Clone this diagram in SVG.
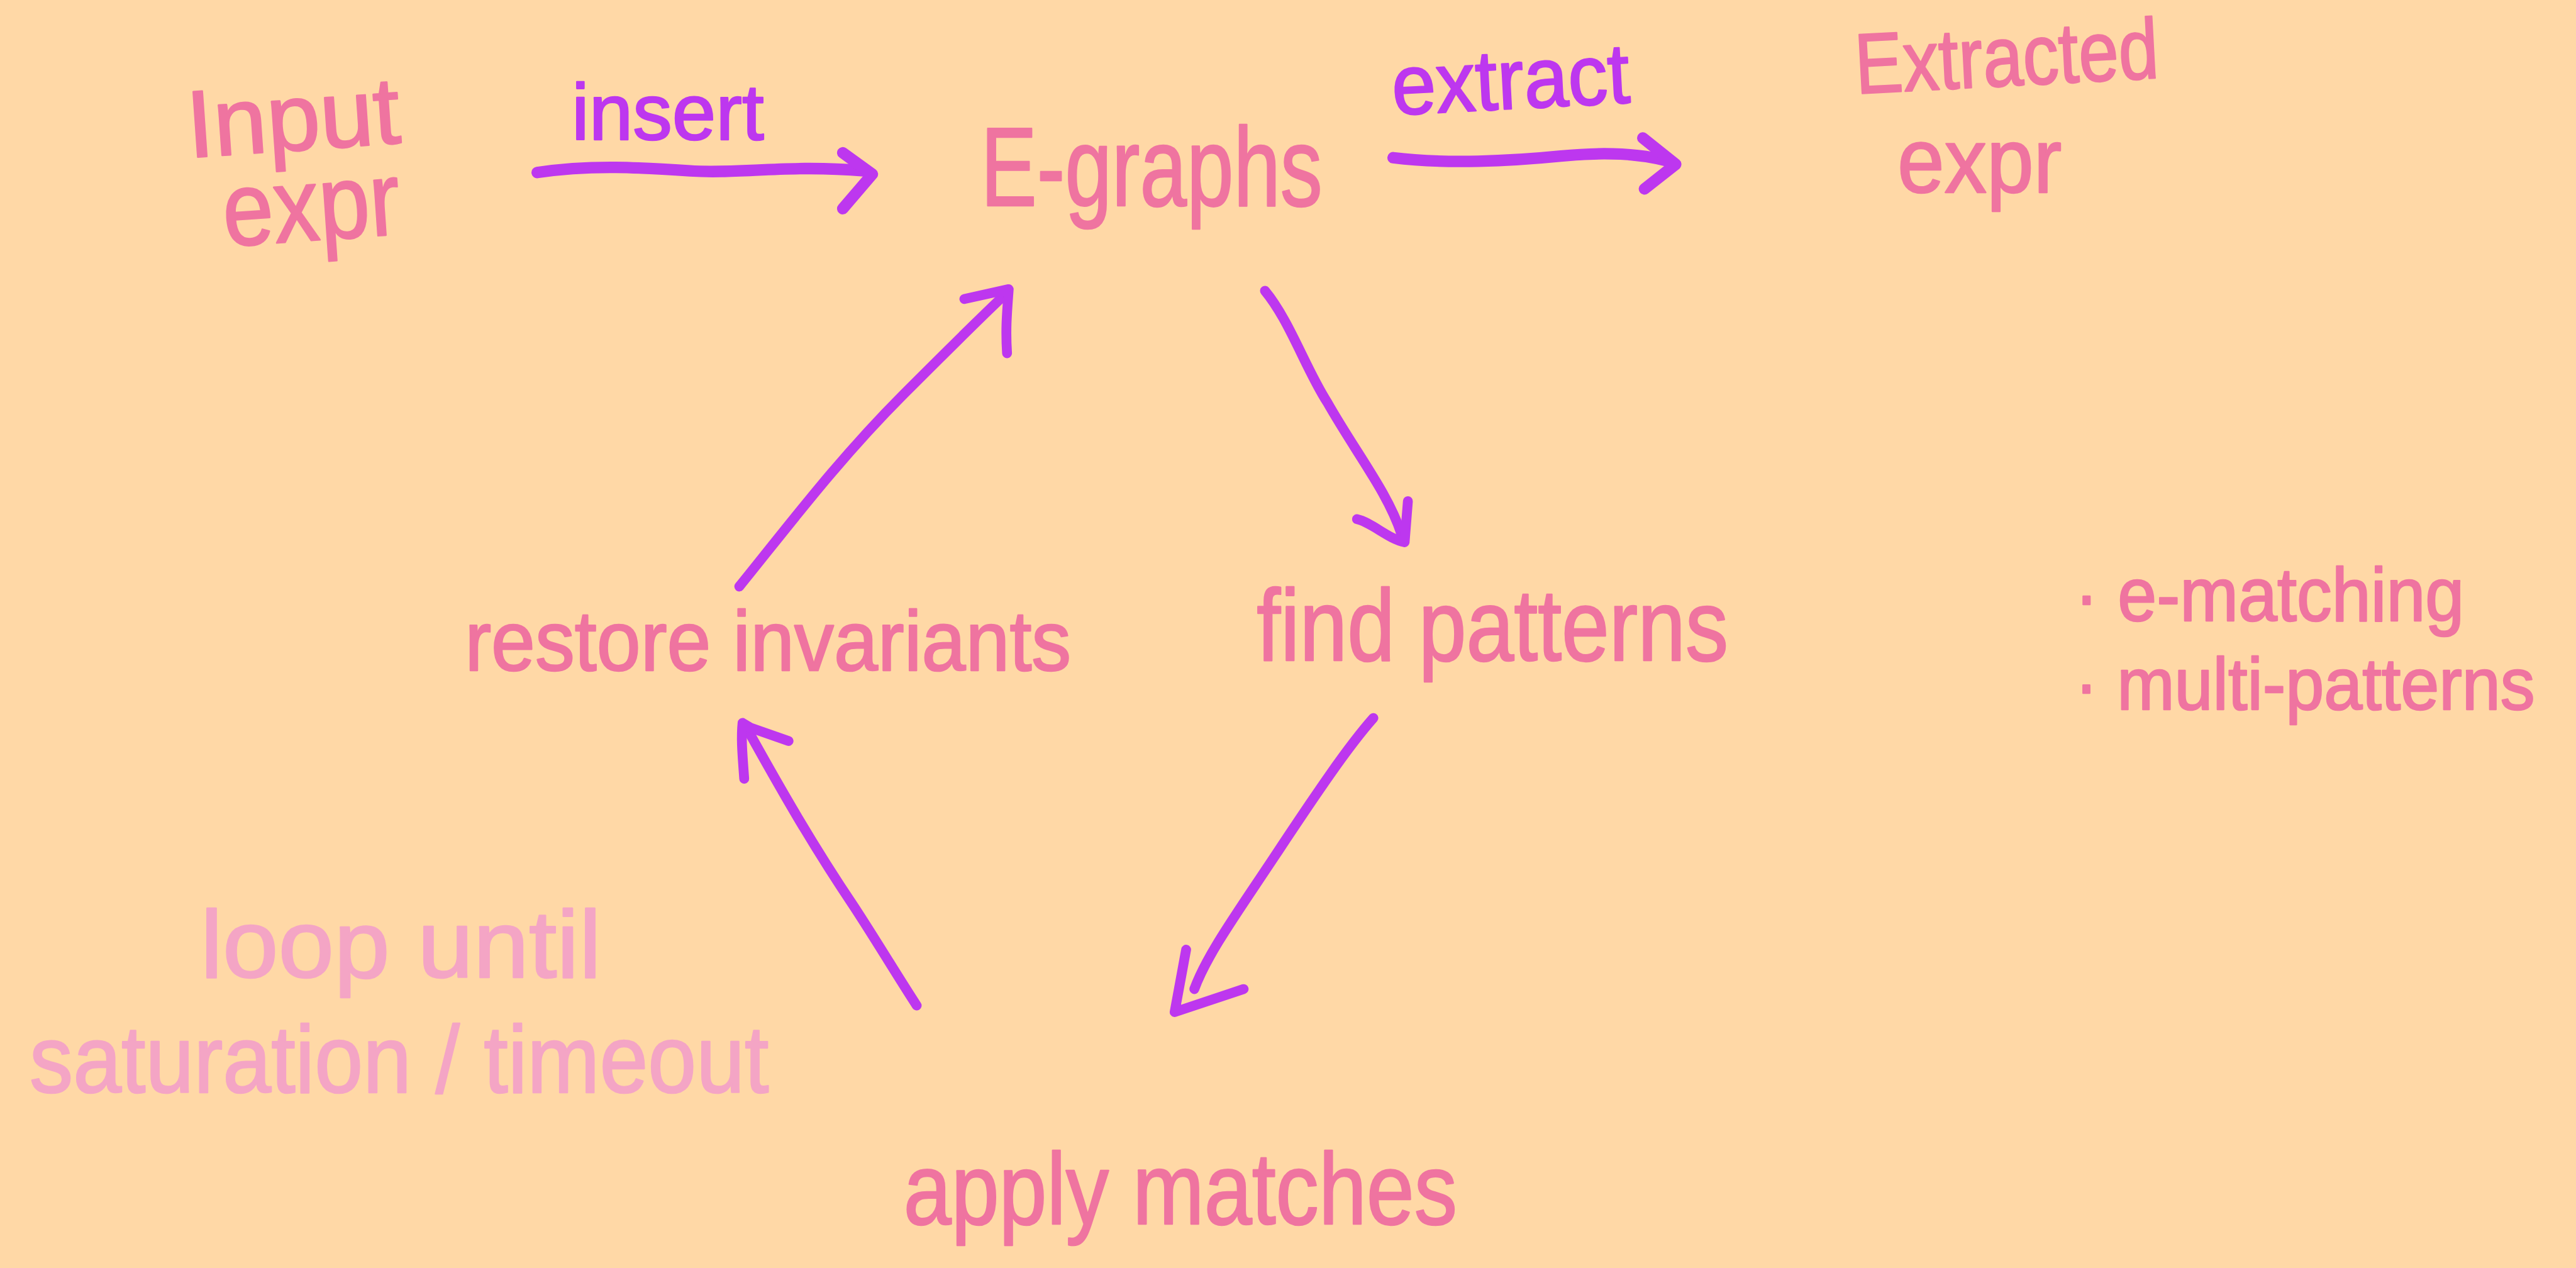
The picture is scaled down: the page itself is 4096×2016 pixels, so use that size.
<svg xmlns="http://www.w3.org/2000/svg" width="4096" height="2016" viewBox="0 0 4096 2016">
<style>
.t{font-family:"Liberation Sans","DejaVu Sans",sans-serif;fill:#EF74A0;stroke:#EF74A0;stroke-width:1;stroke-linejoin:round}
.p{fill:#BD37EF;stroke:#BD37EF}
.l{fill:#F4A5C5;stroke:#F4A5C5}
.c{fill:none;stroke:#BD37EF;stroke-width:6;stroke-linecap:round;stroke-linejoin:round}
.w{stroke-width:7}
</style>
<rect width="4096" height="2016" fill="#FFD8A6"/>
<g transform="scale(2.6122)">
<g id="input">
<text class="t" x="115" y="96" font-size="58" textLength="130" lengthAdjust="spacingAndGlyphs" transform="rotate(-4 115 96)">Input</text>
<text class="t" x="137" y="150" font-size="64" textLength="108" lengthAdjust="spacingAndGlyphs" transform="rotate(-4 137 150)">expr</text>
</g>
<g id="egraphs">
<text class="t" x="597" y="125" font-size="68" textLength="208" lengthAdjust="spacingAndGlyphs">E-graphs</text>
</g>
<g id="extracted">
<text class="t" x="1130" y="57" font-size="52" textLength="185" lengthAdjust="spacingAndGlyphs" transform="rotate(-3 1130 57)">Extracted</text>
<text class="t" x="1155" y="117" font-size="56" textLength="100" lengthAdjust="spacingAndGlyphs">expr</text>
</g>
<g id="find">
<text class="t" x="765" y="402" font-size="62" textLength="287" lengthAdjust="spacingAndGlyphs">find patterns</text>
</g>
<g id="apply">
<text class="t" x="550" y="745" font-size="62" textLength="337" lengthAdjust="spacingAndGlyphs">apply matches</text>
</g>
<g id="restore">
<text class="t" x="283" y="408" font-size="52" textLength="369" lengthAdjust="spacingAndGlyphs">restore invariants</text>
</g>
<g id="loop">
<text class="t l" x="122" y="595" font-size="58" textLength="244" lengthAdjust="spacingAndGlyphs">loop until</text>
<text class="t l" x="18" y="665" font-size="58" textLength="450" lengthAdjust="spacingAndGlyphs">saturation / timeout</text>
</g>
<g id="notes">
<text class="t" x="1263" y="378" font-size="46" textLength="237" lengthAdjust="spacingAndGlyphs">· e-matching</text>
<text class="t" x="1263" y="432" font-size="45" textLength="280" lengthAdjust="spacingAndGlyphs">· multi-patterns</text>
</g>
<g id="connectors">
<text class="t p" x="348" y="85" font-size="48" textLength="117" lengthAdjust="spacingAndGlyphs">insert</text>
<path class="c w" d="M327,105 C360,100 390,102 420,104 C450,106 480,100 526,104"/>
<path class="c w" d="M513,93 L531,106 L513,127"/>
<text class="t p" x="848" y="70" font-size="52" textLength="145" lengthAdjust="spacingAndGlyphs" transform="rotate(-3 848 70)">extract</text>
<path class="c w" d="M848,96 C880,100 920,98 950,95 C980,92 1000,94 1015,98"/>
<path class="c w" d="M1000,84 L1020,100 L1001,115"/>
<path class="c" d="M770,177 C785,195 795,225 808,245 C825,275 845,300 853,325"/>
<path class="c" d="M826,316 C835,318 845,328 855,330 L857,305"/>
<path class="c" d="M836,437 C820,455 800,485 780,515 C755,553 735,580 727,602"/>
<path class="c" d="M722,578 L715,616 L757,602"/>
<path class="c" d="M558,612 C545,592 535,575 520,552 C495,515 475,480 455,444"/>
<path class="c" d="M453,474 C452,460 451,450 452,440 L457,443 L480,451"/>
<path class="c" d="M450,357 C480,320 510,280 550,240 C575,215 595,195 612,179"/>
<path class="c" d="M587,182 L614,176 C613,190 612,200 613,215"/>
</g>
</g>
</svg>
